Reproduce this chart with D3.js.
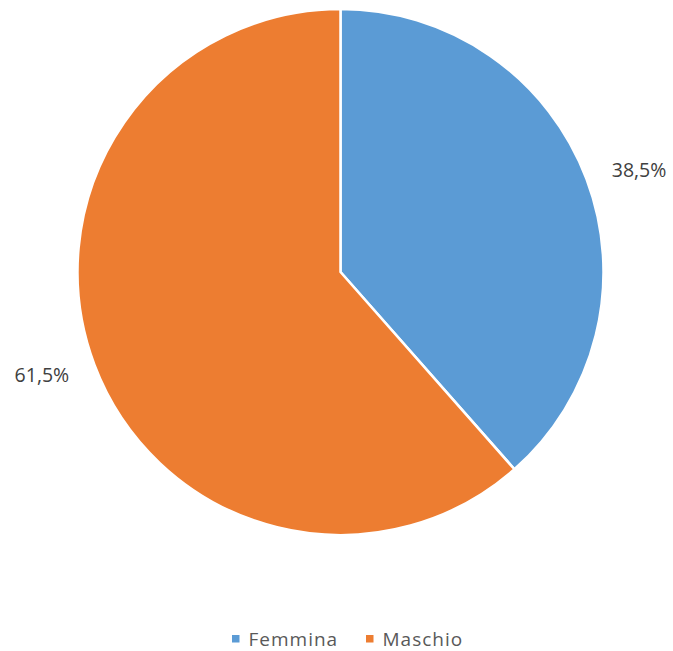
<!DOCTYPE html>
<html><head><meta charset="utf-8">
<script src="https://cdn.jsdelivr.net/npm/d3@7"></script>
<style>body{margin:0;background:#fff}svg{display:block}</style>
</head><body>
<svg id="c" width="673" height="651"></svg>
<script>
const categories = ["Femmina", "Maschio"];
const values = [38.5, 61.5];
const labels = ["38,5%", "61,5%"];
const colors = ["#5B9BD5", "#ED7D31"];

const svg = d3.select("#c");
const cx = 340.5, cy = 272, r = 263;
const font = "'Open Sans', sans-serif";
const pie = d3.pie().sort(null).value(d => d)(values);
const arc = d3.arc().innerRadius(0).outerRadius(r);
const g = svg.append("g").attr("transform", `translate(${cx},${cy})`);
g.selectAll("path").data(pie).join("path")
  .attr("d", arc).attr("fill", (d,i) => colors[i])
  .attr("stroke", "#fff").attr("stroke-width", 2.5).attr("stroke-linejoin","round");

const lr = r + 27;
g.selectAll("text.lbl").data(pie).join("text").attr("class","lbl")
  .each(function(d){
    const a = (d.startAngle + d.endAngle) / 2;
    const x = lr * Math.sin(a), y = -lr * Math.cos(a);
    d3.select(this).attr("x", x).attr("y", y)
      .attr("text-anchor", x >= 0 ? "start" : "end");
  })
  .attr("dominant-baseline","central")
  .attr("font-family",font).attr("font-size",19.5)
  .attr("fill","#404040").text((d,i) => labels[i]);

const leg = svg.append("g").attr("font-family",font).attr("font-size",19).attr("fill","#595959").attr("letter-spacing", 1);
const legX = [232, 366];
categories.forEach((c,i) => {
  leg.append("rect").attr("x", legX[i]).attr("y", 635).attr("width", 7.5).attr("height", 7.5).attr("fill", colors[i]);
  leg.append("text").attr("x", legX[i] + 16.5).attr("y", 639).attr("dominant-baseline","central").text(c);
});
</script>
</body></html>
